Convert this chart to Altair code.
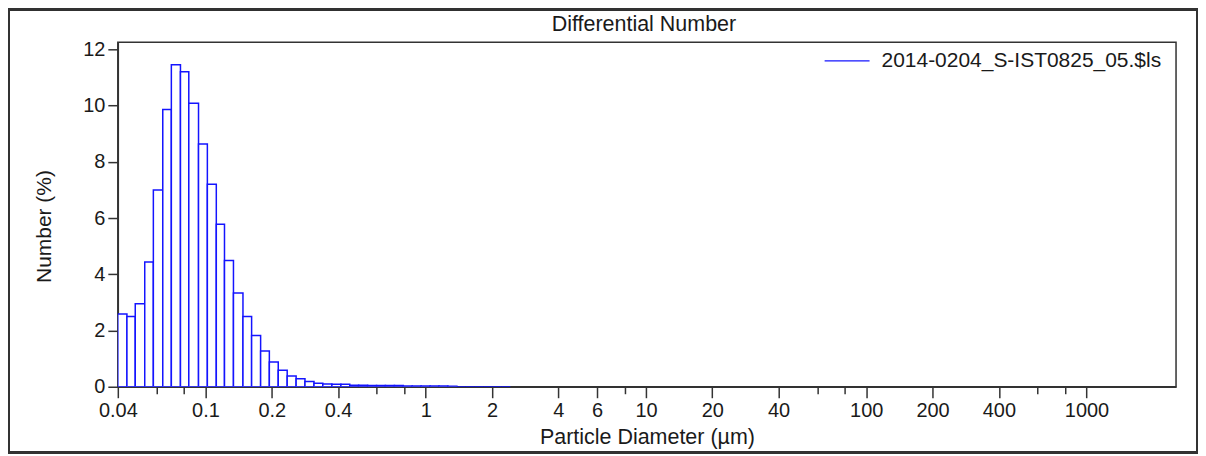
import altair as alt
import pandas as pd

# Channel lower edges (µm) for the laser-diffraction size channels, last value = upper edge of last channel
edges = [0.040, 0.044, 0.048, 0.053, 0.058, 0.064, 0.070, 0.077, 0.084, 0.093,
         0.102, 0.112, 0.122, 0.134, 0.148, 0.162, 0.178, 0.195, 0.214, 0.235,
         0.258, 0.283, 0.311, 0.341, 0.375, 0.412, 0.452, 0.496, 0.545, 0.598,
         0.656, 0.721, 0.791, 0.868, 0.953, 1.047, 1.149, 1.261, 1.385, 1.520,
         1.669, 1.832, 2.010, 2.207, 2.423]

# Differential number (%) per channel
number_pct = [2.59, 2.50, 2.95, 4.44, 7.00, 9.86, 11.45, 11.20, 10.08, 8.63,
              7.20, 5.78, 4.49, 3.33, 2.50, 1.82, 1.27, 0.88, 0.59, 0.38,
              0.28, 0.19, 0.12, 0.10, 0.09, 0.09, 0.05, 0.05, 0.04, 0.04,
              0.04, 0.04, 0.03, 0.03, 0.03, 0.03, 0.03, 0.02, 0.0, 0.0,
              0.0, 0.0, 0.0, 0.0]

series_name = "2014-0204_S-IST0825_05.$ls"
chart_title = ["Differential Number"]

x_tick_values = [0.04, 0.06, 0.08, 0.1, 0.2, 0.4, 0.6, 0.8, 1, 2, 4, 6, 8, 10,
                 20, 40, 60, 80, 100, 200, 400, 600, 800, 1000]
x_unlabeled = [0.06, 0.08, 0.6, 0.8, 8, 60, 80, 600, 800]
y_tick_values = [0, 2, 4, 6, 8, 10, 12]

df = pd.DataFrame({
    "lo": edges[:-1],
    "hi": edges[1:],
    "v": number_pct,
    "base": [0.0] * len(number_pct),
    "series": [series_name] * len(number_pct),
})

FONT = "Liberation Sans"
AX = "#333333"
TXT = "#1a1a1a"

minor_test = " || ".join(f"datum.value == {v}" for v in x_unlabeled)

W, H = 1060, 345
PAD_L, PAD_T, PAD_R, PAD_B = 110, 34, 22, 67

bars = alt.Chart(df).mark_rect(fill="white", strokeWidth=1.5, clip=True).encode(
    x=alt.X("lo:Q",
            scale=alt.Scale(type="log", domain=[0.04, 2550], nice=False),
            axis=alt.Axis(
                values=x_tick_values,
                labelExpr=f"({minor_test}) ? '' : format(datum.value, '~g')",
                labelOverlap=False,
                labelFlush=False,
                tickSize={"condition": {"test": minor_test, "value": 7}, "value": 11},
                tickColor=AX, tickWidth=1.5, domainColor=AX, domainWidth=1.5,
                labelFont=FONT, labelFontSize=20, labelColor=TXT, labelPadding=3,
                grid=False,
                title="Particle Diameter (µm)",
                titleFont=FONT, titleFontSize=21.5, titleFontWeight="normal", titleColor=TXT,
                titleBaseline="middle", titleY=51,
            )),
    x2="hi:Q",
    y=alt.Y("v:Q",
            scale=alt.Scale(domain=[0, 12.25], nice=False),
            axis=alt.Axis(
                values=y_tick_values,
                tickSize=10, tickColor=AX, tickWidth=1.5, domainColor=AX, domainWidth=1.5,
                labelFont=FONT, labelFontSize=20, labelColor=TXT, labelPadding=3,
                grid=False,
                title="Number (%)",
                titleFont=FONT, titleFontSize=21, titleFontWeight="normal", titleColor=TXT,
                titleAngle=-90, titleAlign="center", titleBaseline="middle",
                titleX=-73, titleY=184,
            )),
    y2="base:Q",
    stroke=alt.Stroke("series:N",
                      scale=alt.Scale(range=["#1414ff"]),
                      legend=alt.Legend(
                          title=None, orient="none", legendX=707, legendY=-5,
                          symbolType="stroke", symbolSize=2025, symbolStrokeWidth=1.3,
                          labelFont=FONT, labelFontSize=21, labelColor=TXT,
                          labelOffset=11, labelLimit=0, padding=0,
                      )),
)

frame = alt.Chart(df).mark_rect(fill=None, stroke="#333", strokeWidth=2, clip=False).encode(
    x=alt.value(-PAD_L + 1), x2=alt.value(W + PAD_R - 1),
    y=alt.value(-PAD_T + 1), y2=alt.value(H + PAD_B - 1),
)

title_text = alt.Chart(pd.DataFrame({"t": chart_title})).mark_text(
    font=FONT, fontSize=21.5, color=TXT, align="center", baseline="middle", clip=False,
).encode(text="t:N", x=alt.value(W / 2 - 3), y=alt.value(-17))

chart = alt.layer(frame, bars, title_text).properties(
    width=W, height=H,
    autosize=alt.AutoSizeParams(type="none"),
    padding={"left": PAD_L, "top": PAD_T, "right": PAD_R, "bottom": PAD_B},
).configure_view(stroke="#333333", strokeWidth=1.5)

chart.save("out.html", embed_options={"renderer": "svg", "actions": False})
